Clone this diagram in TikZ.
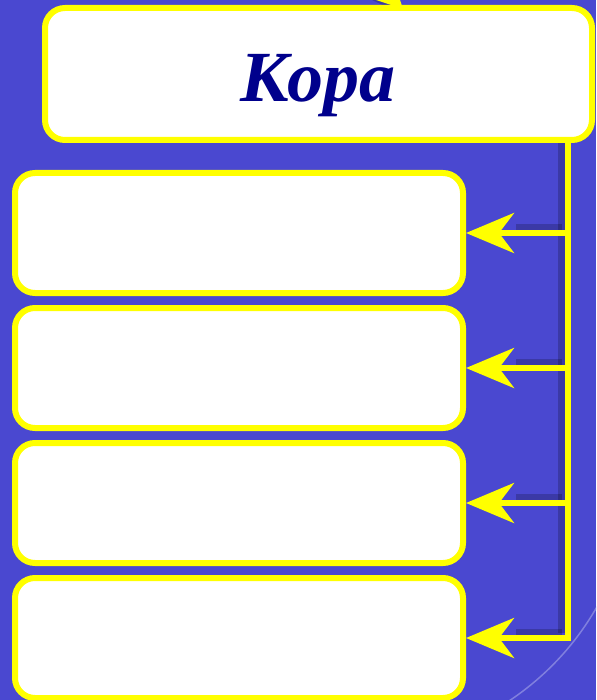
\documentclass[tikz,border=0pt]{standalone}
\usepackage{fontspec}
\setmainfont{Liberation Serif}
\usetikzlibrary{arrows.meta,positioning}
\definecolor{bgblue}{RGB}{74,72,208}
\definecolor{kyellow}{RGB}{255,255,0}
\definecolor{knavy}{RGB}{0,0,140}
\begin{document}
\begin{tikzpicture}[x=1pt,y=-1pt,
    box/.style={draw=kyellow,line width=6pt,fill=white,rounded corners=20pt,
      minimum width=448pt,minimum height=120pt,inner sep=0pt},
    link/.style={draw=kyellow,line width=6pt,
      -{Stealth[length=48pt,width=40pt,inset=15pt]}},
    linkshadow/.style={draw=black,opacity=0.2,line width=8pt}]
    \fill[bgblue] (0,0) rectangle (596,700);
    \useasboundingbox (0,0) rectangle (596,700);
    \begin{scope}
        \clip (480,560) rectangle (596,700);
        \draw[bgblue!70!white,line width=1.5pt] (356,470) circle (277);
    \end{scope}
    % callout tail at the top
    \fill[black,opacity=0.2] (372,0) -- (396,0) -- (398,12) -- cycle;
    \fill[kyellow] (376,0) -- (400,0) -- (403,9) -- cycle;
    % boxes
    \node[box,minimum width=547pt,minimum height=132pt] (cortex) at (318.5,74) {};
    \node[font=\fontsize{72}{72}\selectfont\bfseries\itshape,text=knavy,anchor=base] (title) at (318,102) {Кора};
    \foreach \i/\y in {1/233,2/368,3/503,4/638}
        \node[box] (b\i) at (239,\y) {};
    % connectors
    \coordinate (trunk) at (568,638);
    \foreach \i in {1,2,3,4}
        \draw[linkshadow] ([xshift=-6pt,yshift=5pt]b\i.east -| trunk) -- ([xshift=50pt,yshift=5pt]b\i.east);
    \draw[linkshadow] ([xshift=-6pt]cortex.south -| trunk) -- ([xshift=-6pt,yshift=5pt]trunk);
    \draw[draw=kyellow,line width=6pt] (cortex.south -| trunk) -- ([yshift=-3pt]trunk);
    \foreach \i in {1,2,3}
        \draw[link] (b\i.east -| trunk) -- (b\i.east);
    \draw[link] ([xshift=3pt]trunk) -- (b4.east);
\end{tikzpicture}
\end{document}
